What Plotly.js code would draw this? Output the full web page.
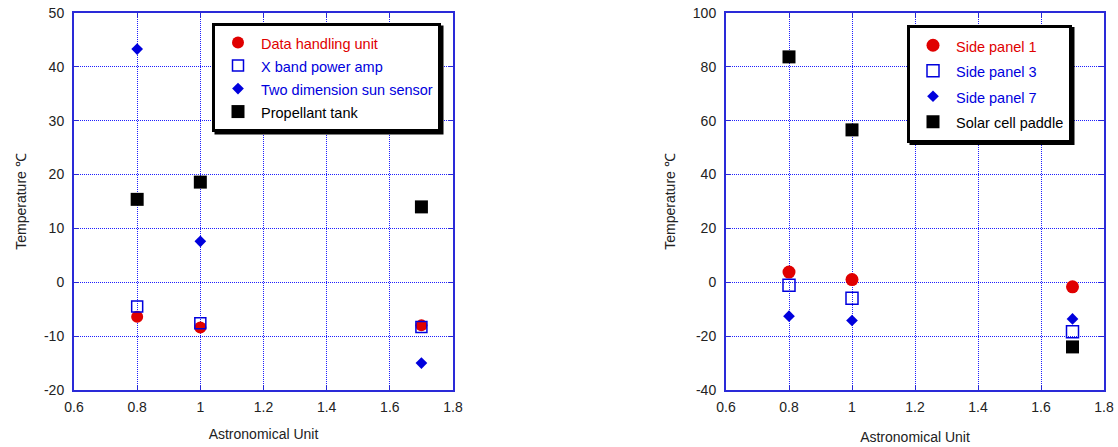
<!DOCTYPE html>
<html><head><meta charset="utf-8">
<script src="https://cdn.plot.ly/plotly-3.0.1.min.js"></script>
<style>html,body{margin:0;padding:0;background:#fff}</style>
</head><body><div id="chart" style="width:1118px;height:447px"></div>
<script>
// Astronomical unit positions
const au = [0.8, 1.0, 1.7];
// Left chart series (temperature, deg C)
const dataHandlingUnit = [-6.4, -8.4, -8.0];
const xBandPowerAmp = [-4.5, -7.6, -8.3];
const twoDimSunSensor = [43.3, 7.6, -15.0];
const propellantTank = [15.4, 18.6, 14.0];
// Right chart series (temperature, deg C)
const sidePanel1 = [3.8, 1.0, -1.7];
const sidePanel3 = [-1.1, -5.9, -18.4];
const sidePanel7 = [-12.6, -14.2, -13.6];
const solarCellPaddle = [83.7, 56.6, -24.0];

const leftNames = ['Data handling unit', 'X band power amp', 'Two dimension sun sensor', 'Propellant tank'];
const rightNames = ['Side panel 1', 'Side panel 3', 'Side panel 7', 'Solar cell paddle'];

// Tick values / labels (hyphen minus as in the original)
const xTickVals = [0.6, 0.8, 1.0, 1.2, 1.4, 1.6, 1.8];
const xTickText = ['0.6', '0.8', '1', '1.2', '1.4', '1.6', '1.8'];
const yLeftTickVals = [-20, -10, 0, 10, 20, 30, 40, 50];
const yLeftTickText = ['-20', '-10', '0', '10', '20', '30', '40', '50'];
const yRightTickVals = [-40, -20, 0, 20, 40, 60, 80, 100];
const yRightTickText = ['-40', '-20', '0', '20', '40', '60', '80', '100'];

const RED = '#e00000', BLUE = '#0000dd', BLACK = '#000000';
const txt = (s, c) => '<span style="color:' + c + ';font-size:14.5px">' + s + '</span>';

function mk(x, y, name, color, symbol, size, xa, ya, legend, open) {
  return {
    type: 'scatter', mode: 'markers', x: x, y: y, name: txt(name, color),
    xaxis: xa, yaxis: ya, legend: legend,
    marker: open ? {symbol: symbol, size: size, color: color, line: {color: color, width: 1.5}}
                 : {symbol: symbol, size: size, color: color, line: {width: 0}},
    hoverinfo: 'x+y'
  };
}

const traces = [
  mk(au, dataHandlingUnit, leftNames[0], RED, 'circle', 12, 'x', 'y', 'legend'),
  mk(au, xBandPowerAmp, leftNames[1], BLUE, 'square-open', 11, 'x', 'y', 'legend', true),
  mk(au, twoDimSunSensor, leftNames[2], BLUE, 'diamond', 9, 'x', 'y', 'legend'),
  mk(au, propellantTank, leftNames[3], BLACK, 'square', 13, 'x', 'y', 'legend'),
  mk(au, sidePanel1, rightNames[0], RED, 'circle', 13, 'x2', 'y2', 'legend2'),
  mk(au, sidePanel3, rightNames[1], BLUE, 'square-open', 12, 'x2', 'y2', 'legend2', true),
  mk(au, sidePanel7, rightNames[2], BLUE, 'diamond', 9, 'x2', 'y2', 'legend2'),
  mk(au, solarCellPaddle, rightNames[3], BLACK, 'square', 13, 'x2', 'y2', 'legend2')
];

const FONT = 'Liberation Sans, Arial, sans-serif';
const axisCommon = {
  showline: true, linecolor: '#2a2ad8', linewidth: 2, mirror: 'ticks',
  ticks: 'inside', ticklen: 5, tickwidth: 1, tickcolor: '#2a2ad8',
  showgrid: true, gridcolor: '#1e1eff', gridwidth: 1, griddash: '1px,1px',
  zeroline: false, tickfont: {family: FONT, size: 14, color: '#222'}
};
function xax(domain, anchor, standoff) {
  return Object.assign({}, axisCommon, {
    domain: domain, anchor: anchor, range: [0.6, 1.8],
    tickmode: 'array', tickvals: xTickVals, ticktext: xTickText,
    ticklabelstandoff: 3,
    title: {text: 'Astronomical Unit', font: {family: FONT, size: 14, color: '#222'}, standoff: standoff}
  });
}
function yax(anchor, range, vals, text) {
  return Object.assign({}, axisCommon, {
    anchor: anchor, domain: [0, 1], range: range,
    tickmode: 'array', tickvals: vals, ticktext: text,
    ticklabelstandoff: 5,
    title: {text: 'Temperature ℃', font: {family: FONT, size: 14, color: '#222'}, standoff: 14}
  });
}

const legendCommon = {
  xanchor: 'left', yanchor: 'top', bgcolor: '#fff', bordercolor: '#000', borderwidth: 3,
  itemwidth: 36, itemclick: false, itemdoubleclick: false
};

const W = 1118, H = 447, T = 13, PH = 377;
const LEG1 = {left: 212, top: 23}, LEG2 = {left: 907, top: 24.5};
const layout = {
  width: W, height: H,
  margin: {l: 0, r: 0, t: T, b: H - T - PH, pad: 0},
  paper_bgcolor: '#fff', plot_bgcolor: '#fff',
  font: {family: FONT, size: 14, color: '#222'},
  showlegend: true,
  xaxis: xax([74 / W, 453 / W], 'y', 15),
  yaxis: yax('x', [-20, 50], yLeftTickVals, yLeftTickText),
  xaxis2: xax([726 / W, 1104 / W], 'y2', 18),
  yaxis2: yax('x2', [-40, 100], yRightTickVals, yRightTickText),
  legend: Object.assign({}, legendCommon, {
    x: LEG1.left / W, y: 1 - (LEG1.top - T) / PH,
    font: {family: FONT, size: 15.4, color: '#000'}
  }),
  legend2: Object.assign({}, legendCommon, {
    x: LEG2.left / W, y: 1 - (LEG2.top - T) / PH,
    font: {family: FONT, size: 17.3, color: '#000'}
  })
};

const gd = document.getElementById('chart');
Plotly.newPlot(gd, traces, layout, {displayModeBar: false, staticPlot: true}).then(function () {
  // drop shadow behind each legend box, sized from the legend Plotly drew
  const shapes = [];
  [['legend', LEG1], ['legend2', LEG2]].forEach(function (p) {
    const lg = gd._fullLayout[p[0]];
    if (!lg || !lg._width) return;
    const off = 2.5;
    const x0 = p[1].left + off, x1 = p[1].left + lg._width + off;
    const y0 = p[1].top + off, y1 = p[1].top + lg._height + off;
    shapes.push({
      type: 'rect', xref: 'paper', yref: 'paper', layer: 'above',
      x0: x0 / W, x1: x1 / W, y0: 1 - (y0 - T) / PH, y1: 1 - (y1 - T) / PH,
      fillcolor: '#000', line: {width: 0}
    });
  });
  return Plotly.relayout(gd, {shapes: shapes});
});
</script>
</body></html>
